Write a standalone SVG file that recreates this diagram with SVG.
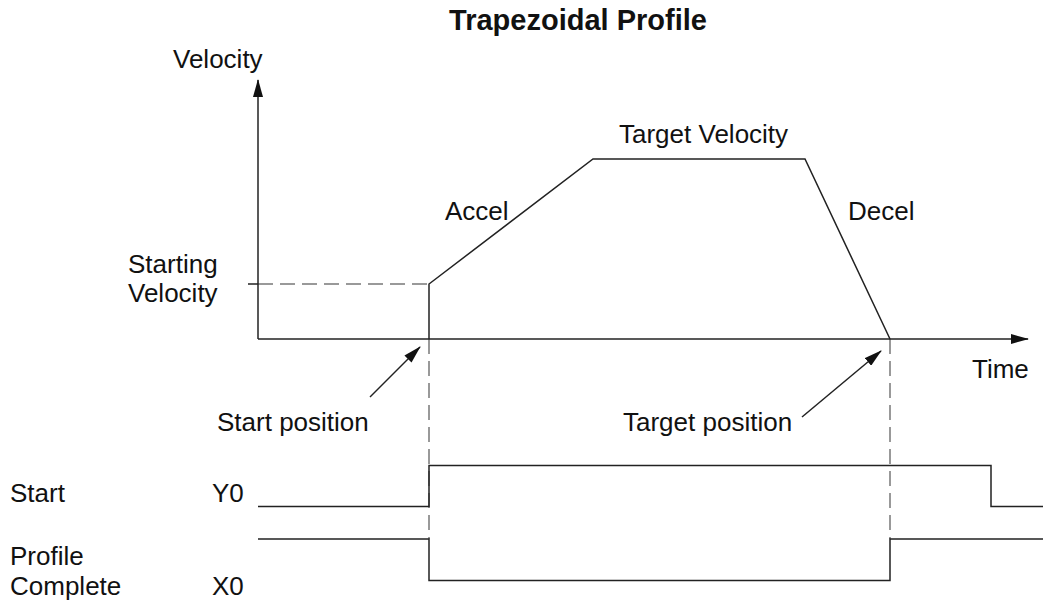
<svg xmlns="http://www.w3.org/2000/svg" width="1043" height="601" viewBox="0 0 1043 601">
<style>
  text { font-family: "Liberation Sans", Arial, Helvetica, sans-serif; font-size: 26px; fill: #111; }
  .title { font-weight: bold; font-size: 29px; }
  .ln { stroke: #222; stroke-width: 1.5; fill: none; }
  .dash { stroke: #999; stroke-width: 2; stroke-dasharray: 15 7; fill: none; }
</style>
<defs>
  <marker id="ah" markerWidth="18" markerHeight="10" refX="17" refY="5" orient="auto" markerUnits="userSpaceOnUse">
    <path d="M0,0 L18,5 L0,10 Z" fill="#111"/>
  </marker>
</defs>
<rect width="1043" height="601" fill="#fff"/>
<g id="title"><text class="title" x="578" y="30" text-anchor="middle">Trapezoidal Profile</text></g>
<g id="labels">
  <text x="173" y="68">Velocity</text>
  <text x="128" y="273">Starting</text>
  <text x="128" y="302">Velocity</text>
  <text x="619" y="143">Target Velocity</text>
  <text x="445" y="220">Accel</text>
  <text x="848" y="220">Decel</text>
  <text x="972" y="378">Time</text>
  <text x="217" y="431">Start position</text>
  <text x="623" y="431">Target position</text>
  <text x="10" y="502">Start</text>
  <text x="212" y="502">Y0</text>
  <text x="10" y="565">Profile</text>
  <text x="10" y="595">Complete</text>
  <text x="212" y="595">X0</text>
</g>
<g id="connectors">
  <line class="dash" x1="258" y1="284" x2="429" y2="284"/>
  <line class="dash" x1="429" y1="339" x2="429" y2="539"/>
  <line class="dash" x1="890" y1="339" x2="890" y2="539"/>
  <line class="ln" x1="248" y1="284" x2="258" y2="284"/>
  <line class="ln" x1="258" y1="339" x2="258" y2="80" marker-end="url(#ah)"/>
  <line class="ln" x1="258" y1="339" x2="1028" y2="339" marker-end="url(#ah)"/>
  <polyline class="ln" points="429,339 429,284 593,159 805,159 890,339"/>
  <line class="ln" x1="370" y1="397" x2="420" y2="347" marker-end="url(#ah)"/>
  <line class="ln" x1="802" y1="417" x2="881" y2="351" marker-end="url(#ah)"/>
  <polyline class="ln" points="258,506.5 429,506.5 429,465.5 991,465.5 991,506.5 1043,506.5"/>
  <polyline class="ln" points="258,539 429,539 429,580.5 890,580.5 890,539 1043,539"/>
</g>
</svg>
